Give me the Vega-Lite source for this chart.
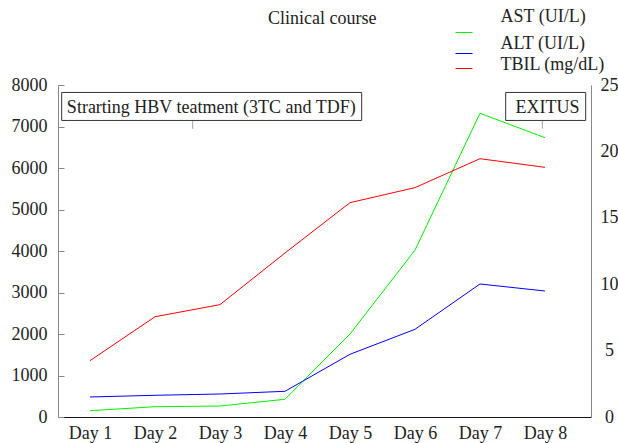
{
  "$schema": "https://vega.github.io/schema/vega-lite/v6.json",
  "width": 533,
  "height": 332,
  "autosize": "none",
  "padding": {"left": 58, "top": 85, "right": 27, "bottom": 26},
  "background": "white",
  "config": {
    "view": {"stroke": null},
    "font": "Liberation Serif",
    "axis": {"labelFont": "Liberation Serif", "labelFontSize": 18, "labelColor": "#222", "grid": false}
  },
  "datasets": {
    "labs": [
      {"day": 1, "series": "AST (UI/L)", "value": 152},
      {"day": 2, "series": "AST (UI/L)", "value": 248},
      {"day": 3, "series": "AST (UI/L)", "value": 265},
      {"day": 4, "series": "AST (UI/L)", "value": 427},
      {"day": 5, "series": "AST (UI/L)", "value": 2000},
      {"day": 6, "series": "AST (UI/L)", "value": 4020},
      {"day": 7, "series": "AST (UI/L)", "value": 7318},
      {"day": 8, "series": "AST (UI/L)", "value": 6730},
      {"day": 1, "series": "ALT (UI/L)", "value": 482},
      {"day": 2, "series": "ALT (UI/L)", "value": 523},
      {"day": 3, "series": "ALT (UI/L)", "value": 554},
      {"day": 4, "series": "ALT (UI/L)", "value": 619},
      {"day": 5, "series": "ALT (UI/L)", "value": 1511},
      {"day": 6, "series": "ALT (UI/L)", "value": 2113},
      {"day": 7, "series": "ALT (UI/L)", "value": 3205},
      {"day": 8, "series": "ALT (UI/L)", "value": 3036},
      {"day": 1, "series": "TBIL (mg/dL)", "value": 4.24},
      {"day": 2, "series": "TBIL (mg/dL)", "value": 7.55},
      {"day": 3, "series": "TBIL (mg/dL)", "value": 8.46},
      {"day": 4, "series": "TBIL (mg/dL)", "value": 12.35},
      {"day": 5, "series": "TBIL (mg/dL)", "value": 16.14},
      {"day": 6, "series": "TBIL (mg/dL)", "value": 17.27},
      {"day": 7, "series": "TBIL (mg/dL)", "value": 19.45},
      {"day": 8, "series": "TBIL (mg/dL)", "value": 18.8}
    ],
    "notes": [
      {"note": "Strarting HBV teatment (3TC and TDF)", "day": 2.58, "value": 7040},
      {"note": "EXITUS", "day": 7.96, "value": 7040}
    ]
  },
  "encoding": {
    "x": {
      "field": "day", "type": "quantitative", "title": null,
      "scale": {"domain": [0.508, 8.708], "nice": false, "zero": false},
      "axis": {"values": [1, 2, 3, 4, 5, 6, 7, 8], "labelExpr": "'Day ' + datum.value", "ticks": false, "domainColor": "#111", "labelPadding": 7, "labelFlush": false}
    }
  },
  "layer": [
    {
      "encoding": {
        "y": {
          "field": "value", "type": "quantitative", "title": null,
          "scale": {"domain": [0, 8000], "nice": false},
          "axis": {"values": [0, 1000, 2000, 3000, 4000, 5000, 6000, 7000, 8000], "format": "d", "domainColor": "#888", "tickColor": "#888", "tickSize": -6, "labelPadding": 17}
        }
      },
      "layer": [
        {
          "data": {"name": "labs"},
          "transform": [{"filter": "datum.series !== 'TBIL (mg/dL)'"}],
          "mark": {"type": "line", "strokeWidth": 1},
          "encoding": {
            "color": {
              "field": "series", "type": "nominal",
              "scale": {"domain": ["AST (UI/L)", "ALT (UI/L)", "TBIL (mg/dL)"], "range": ["#00f000", "#0000ff", "#ff0000"]},
              "legend": {
                "orient": "none", "legendX": 210, "legendY": -61.5,
                "title": "Clinical course", "titleOrient": "left", "titleAnchor": "start", "titlePadding": 78,
                "titleBaseline": "alphabetic", "titleFont": "Liberation Serif", "titleFontSize": 18, "titleFontWeight": "normal", "titleColor": "#222",
                "labelFont": "Liberation Serif", "labelFontSize": 18, "labelColor": "#222", "labelOffset": 27.5,
                "symbolType": "stroke", "symbolSize": 289, "symbolStrokeWidth": 1,
                "rowPadding": 0, "padding": 0,
                "encode": {"labels": {"update": {"dy": {"signal": "datum.index * 6.2 - 15.8"}}}}
              }
            }
          }
        },
        {
          "data": {"name": "notes"},
          "mark": {"type": "tick", "orient": "vertical", "size": 8, "thickness": 1, "color": "#777"}
        },
        {
          "data": {"name": "notes"},
          "transform": [{"filter": "datum.note !== 'EXITUS'"}],
          "mark": {"type": "rect", "width": 300, "height": 28, "xOffset": 19, "yOffset": -18.4, "fill": "white", "stroke": "#333", "strokeWidth": 1}
        },
        {
          "data": {"name": "notes"},
          "transform": [{"filter": "datum.note !== 'EXITUS'"}],
          "mark": {"type": "text", "dx": 18.6, "dy": -11.8, "baseline": "alphabetic", "align": "center", "font": "Liberation Serif", "fontSize": 18, "color": "#222"},
          "encoding": {"text": {"field": "note"}}
        },
        {
          "data": {"name": "notes"},
          "transform": [{"filter": "datum.note === 'EXITUS'"}],
          "mark": {"type": "rect", "width": 80, "height": 28, "xOffset": 3.3, "yOffset": -18.4, "fill": "white", "stroke": "#333", "strokeWidth": 1}
        },
        {
          "data": {"name": "notes"},
          "transform": [{"filter": "datum.note === 'EXITUS'"}],
          "mark": {"type": "text", "dx": 5.1, "dy": -11.8, "baseline": "alphabetic", "align": "center", "font": "Liberation Serif", "fontSize": 18, "color": "#222"},
          "encoding": {"text": {"field": "note"}}
        }
      ]
    },
    {
      "data": {"name": "labs"},
      "transform": [{"filter": "datum.series === 'TBIL (mg/dL)'"}],
      "mark": {"type": "line", "strokeWidth": 1},
      "encoding": {
        "y": {
          "field": "value", "type": "quantitative", "title": null,
          "scale": {"domain": [0, 25], "nice": false},
          "axis": {"orient": "right", "values": [0, 5, 10, 15, 20, 25], "domainColor": "#888", "ticks": false, "labelAlign": "center", "labelPadding": 18}
        },
        "color": {
          "field": "series", "type": "nominal",
          "scale": {"domain": ["AST (UI/L)", "ALT (UI/L)", "TBIL (mg/dL)"], "range": ["#00f000", "#0000ff", "#ff0000"]},
          "legend": {
            "orient": "none", "legendX": 210, "legendY": -61.5,
            "title": "Clinical course", "titleOrient": "left", "titleAnchor": "start", "titlePadding": 78,
            "titleBaseline": "alphabetic", "titleFont": "Liberation Serif", "titleFontSize": 18, "titleFontWeight": "normal", "titleColor": "#222",
            "labelFont": "Liberation Serif", "labelFontSize": 18, "labelColor": "#222", "labelOffset": 27.5,
            "symbolType": "stroke", "symbolSize": 289, "symbolStrokeWidth": 1,
            "rowPadding": 0, "padding": 0,
            "encode": {"labels": {"update": {"dy": {"signal": "datum.index * 6.2 - 15.8"}}}}
          }
        }
      }
    }
  ],
  "resolve": {"scale": {"y": "independent"}, "axis": {"y": "independent"}}
}
